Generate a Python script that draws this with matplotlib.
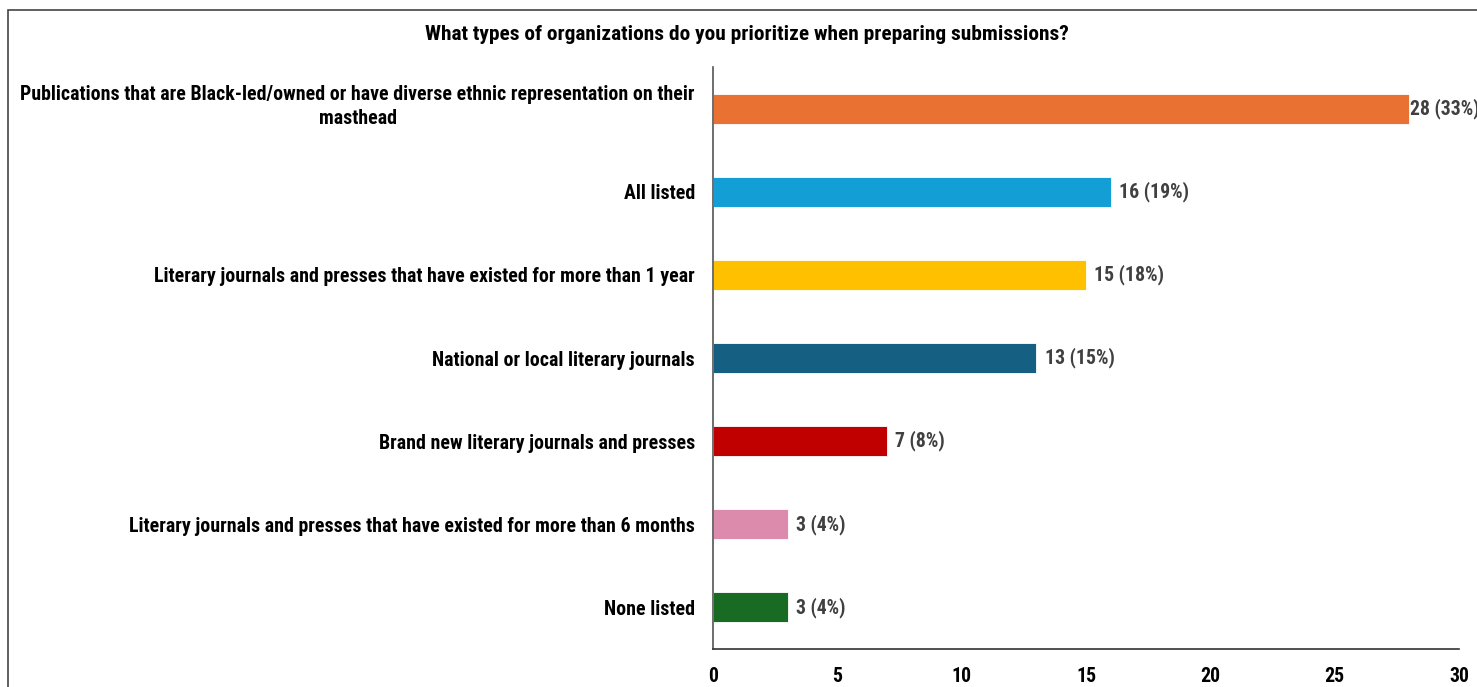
import matplotlib
matplotlib.use("Agg")
import matplotlib.pyplot as plt
import matplotlib.transforms as mtransforms
from matplotlib.patches import Rectangle

plt.rcParams['font.family'] = ['Roboto Condensed', 'Asap Condensed', 'Liberation Sans', 'DejaVu Sans']

categories = [
    "Publications that are Black-led/owned or have diverse ethnic representation on their\nmasthead",
    "All listed",
    "Literary journals and presses that have existed for more than 1 year",
    "National or local literary journals",
    "Brand new literary journals and presses",
    "Literary journals and presses that have existed for more than 6 months",
    "None listed",
]
counts = [28, 16, 15, 13, 7, 3, 3]
percents = [33, 19, 18, 15, 8, 4, 4]
colors = ["#E97132", "#139FD6", "#FFC000", "#156082", "#C00000", "#DC8BAD", "#196B24"]
x_ticks = [0, 5, 10, 15, 20, 25, 30]

fig = plt.figure(figsize=(14.77, 6.87), dpi=100)
ax = fig.add_axes([713 / 1477, 1 - 649 / 687, 746 / 1477, 582 / 687])

y = list(range(len(categories)))
ax.barh(y, counts, height=0.36, color=colors, edgecolor="white", linewidth=0.6)
for yi, c, p in zip(y, counts, percents):
    # the longest bar sits against the right edge, so its label hugs the bar
    dx = 0.5 if c == max(counts) else 6
    ax.annotate(f"{c} ({p}%)", xy=(c, yi), xytext=(dx, 0), textcoords="offset points",
                va="center", ha="left", fontsize=14.2, fontweight="bold",
                color="#404040", annotation_clip=False)

ax.set_xlim(0, 30)
ax.set_ylim(len(categories) - 0.5, -0.5)
ax.set_xticks(x_ticks)
ax.set_yticks(y)
ax.set_yticklabels(categories, fontsize=14.3, fontweight="bold", color="black",
                   multialignment="center", linespacing=1.35)
ax.tick_params(axis="y", length=0, pad=13)
ax.tick_params(axis="x", length=0, pad=13, labelsize=14.3, labelcolor="black")
for lbl in ax.get_xticklabels():
    lbl.set_fontweight("bold")

# two-line label: centre the pair on its bar
first = ax.get_yticklabels()[0]
first.set_transform(first.get_transform() +
                    mtransforms.ScaledTranslation(0, 5 / 72, fig.dpi_scale_trans))

for s in ["top", "right"]:
    ax.spines[s].set_visible(False)
ax.spines["left"].set_color("#555555")
ax.spines["bottom"].set_color("#333333")
ax.spines["left"].set_linewidth(1.2)
ax.spines["bottom"].set_linewidth(1.2)

fig.text(747 / 1477, 1 - 35 / 687,
         "What types of organizations do you prioritize when preparing submissions?",
         ha="center", va="center", fontsize=15.4, fontweight="bold", color="black")

# outer chart border, running off the right and bottom edges
fig.patches.append(Rectangle((8 / 1477, -0.05), 1.1, 1 - 10 / 687 + 0.05,
                             transform=fig.transFigure, fill=False,
                             edgecolor="#444444", linewidth=1.2))

fig.savefig("out.png", dpi=100)
